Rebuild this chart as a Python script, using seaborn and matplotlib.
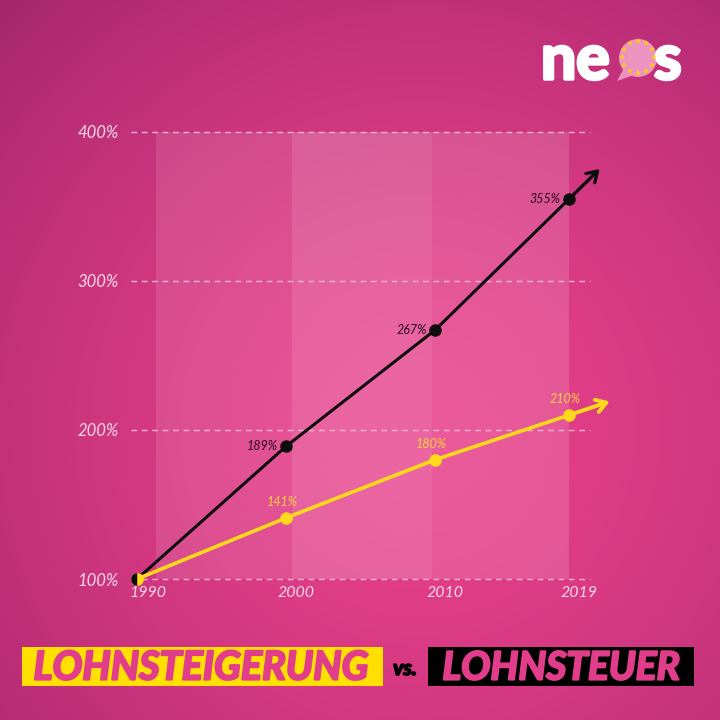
import numpy as np
import pandas as pd
import matplotlib
matplotlib.use("Agg")
import matplotlib.pyplot as plt
import matplotlib.patheffects as pe
import matplotlib.transforms as mtransforms
import seaborn as sns
from matplotlib.patches import Rectangle, Circle, Polygon
from matplotlib.colors import to_rgb

# ---- data ----
years = [1990, 2000, 2010, 2019]
lohnsteuer = [100, 189, 267, 355]          # black series
lohnsteigerung = [100, 141, 180, 210]      # yellow series
ytick_values = [100, 200, 300, 400]
ytick_labels = ["100%", "200%", "300%", "400%"]
xtick_labels = ["1990", "2000", "2010", "2019"]

df = pd.DataFrame({
    "year": years * 2,
    "value": lohnsteuer + lohnsteigerung,
    "series": ["Lohnsteuer"] * 4 + ["Lohnsteigerung"] * 4,
})

BLACK = "#0d0d0d"
YELLOW = "#FFD91A"
PINK_TXT = "#E23D8B"
TICK_COL = "#F8D8E8"

sns.set_theme(style="white")
plt.rcParams["font.family"] = ["Lato", "DejaVu Sans"]

W = H = 720
fig = plt.figure(figsize=(7.2, 7.2), dpi=100)

# ---- background radial gradient ----
bg = fig.add_axes([0, 0, 1, 1])
yy, xx = np.mgrid[0:H, 0:W]
d = np.sqrt((xx - 420) ** 2 + (yy - 430) ** 2) / 600.0
d = np.clip(d, 0, 1) ** 1.6
c_in = np.array(to_rgb("#E8408B"))
c_out = np.array(to_rgb("#A5266E"))
img = c_in[None, None, :] * (1 - d[..., None]) + c_out[None, None, :] * d[..., None]
bg.imshow(img, extent=[0, W, H, 0], aspect="auto")
bg.set_xlim(0, W)
bg.set_ylim(H, 0)
bg.axis("off")

# ---- main axes ----
px = 14.897  # pixels per year
py = 1.495   # pixels per percent
left_px, right_px, top_px, bottom_px = 130, 600, 120, 582
ax = fig.add_axes([left_px / W, (H - bottom_px) / H, (right_px - left_px) / W, (bottom_px - top_px) / H])
ax.set_facecolor((0, 0, 0, 0))
ax.set_xlim(1990 - 7 / px, 2019 + 31 / px)
ax.set_ylim(100 - 3 / py, 400 + 12 / py)
for s in ax.spines.values():
    s.set_visible(False)

# shaded bands
bands = [(1991.3, 2000.4, 0.11), (2000.4, 2009.8, 0.20), (2009.8, 2019.0, 0.14)]
for x0, x1, a in bands:
    ax.add_patch(Rectangle((x0, 100), x1 - x0, 300, facecolor="white", alpha=a, lw=0, zorder=0))

# dashed gridlines
for v in ytick_values:
    ax.plot([1989.6, 2020.4], [v, v], ls=(0, (4, 3.5)), color="#F4B6D2", lw=1.0, zorder=1, clip_on=False)

sns.lineplot(data=df, x="year", y="value", hue="series",
             palette={"Lohnsteuer": BLACK, "Lohnsteigerung": YELLOW},
             hue_order=["Lohnsteuer", "Lohnsteigerung"],
             linewidth=2.2, marker="o", markersize=9, markeredgewidth=0,
             legend=False, ax=ax, zorder=3)
for ln in ax.lines:
    ln.set_clip_on(False)
ax.lines[-1].set_linewidth(2.6)

# 1990 start dot: half black, half yellow
ax.plot([years[0]], [lohnsteuer[0]], marker="o", markersize=9, color=BLACK,
        markerfacecoloralt=YELLOW, fillstyle="left", markeredgewidth=0, zorder=5, clip_on=False)

# arrows continuing the last segment
def arrow(xs, ys, color, length_px, lw):
    p1 = ax.transData.transform((xs[-2], ys[-2]))
    p2 = ax.transData.transform((xs[-1], ys[-1]))
    v = (p2 - p1) / np.linalg.norm(p2 - p1)
    tip = ax.transData.inverted().transform(p2 + v * length_px)
    ax.annotate("", xy=tip, xytext=(xs[-1], ys[-1]), annotation_clip=False,
                arrowprops=dict(arrowstyle="->,head_length=0.6,head_width=0.38", color=color, lw=lw,
                                shrinkA=0, shrinkB=0), zorder=4)

arrow(years, lohnsteuer, BLACK, 43, 2.4)
arrow(years, lohnsteigerung, YELLOW, 43, 2.8)

# data labels
for x, v in zip(years[1:], lohnsteuer[1:]):
    ax.annotate(f"{v}%", (x, v), xytext=(-6, 0), textcoords="offset points", ha="right", va="center",
                fontsize=9, style="italic", color="#2a0a1e", zorder=6)
for x, v in zip(years[1:], lohnsteigerung[1:]):
    ax.annotate(f"{v}%", (x, v), xytext=(-3, 7), textcoords="offset points", ha="center", va="bottom",
                fontsize=9, style="italic", color="#FFD23A", zorder=6)

# ticks
ax.set_yticks(ytick_values)
ax.set_yticklabels(ytick_labels)
ax.set_xticks(years)
ax.set_xticklabels(xtick_labels)
ax.tick_params(axis="y", length=0, pad=8, labelsize=12, labelcolor=TICK_COL)
ax.tick_params(axis="x", length=0, pad=3, labelsize=11.5, labelcolor=TICK_COL)
for t in ax.get_yticklabels() + ax.get_xticklabels():
    t.set_fontstyle("italic")
off = mtransforms.ScaledTranslation(-8 / 100, 0, fig.dpi_scale_trans)
for t in ax.get_xticklabels():
    t.set_ha("left")
    t.set_transform(t.get_transform() + off)
ax.set_xlabel("")
ax.set_ylabel("")

# ---- title boxes (pixel coordinates on bg axes) ----
bg.add_patch(Rectangle((22, 647), 361, 39, facecolor="#FFE000", lw=0))
bg.add_patch(Rectangle((428, 647), 266, 39, facecolor="black", lw=0))
heavy = [pe.withStroke(linewidth=1.6, foreground=PINK_TXT)]
bg.text(201, 668, "LOHNSTEIGERUNG", ha="center", va="center", fontsize=28.5, fontweight="bold",
        style="italic", color=PINK_TXT, path_effects=heavy)
bg.text(561, 668, "LOHNSTEUER", ha="center", va="center", fontsize=28, fontweight="bold",
        style="italic", color=PINK_TXT, path_effects=heavy)
bg.text(405, 669, "vs.", ha="center", va="center", fontsize=15, fontweight="bold",
        style="italic", color="black", path_effects=[pe.withStroke(linewidth=1.2, foreground="black")])

# ---- logo ----
wstroke = [pe.withStroke(linewidth=2.5, foreground="white")]
bg.text(541, 79, "ne", ha="left", va="baseline", fontsize=45, fontweight="bold", color="white",
        path_effects=wstroke)
bg.add_patch(Circle((638, 58), 19, facecolor="#EC93C0", lw=0, zorder=3))
bg.add_patch(Polygon([[624, 68], [617, 81], [634, 75]], closed=True, facecolor="#EC93C0", lw=0, zorder=3))
for ang in np.linspace(0, 2 * np.pi, 12, endpoint=False):
    bg.plot(638 + 16 * np.cos(ang), 57 + 16 * np.sin(ang), marker="*", color="#FFD400",
            markersize=4.5, markeredgewidth=0, zorder=4)
bg.text(654, 79, "s", ha="left", va="baseline", fontsize=45, fontweight="bold", color="white",
        path_effects=wstroke)

fig.savefig("out.png", dpi=100)
